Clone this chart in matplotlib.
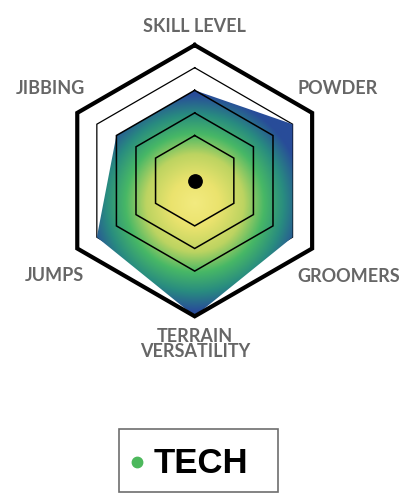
import numpy as np
import matplotlib
matplotlib.use("Agg")
import matplotlib.pyplot as plt
from matplotlib.colors import LinearSegmentedColormap
from matplotlib.patches import Polygon, Rectangle

# ski ratings, 1-5, clockwise from the top
categories = ["SKILL LEVEL", "POWDER", "GROOMERS", "TERRAIN\nVERSATILITY", "JUMPS", "JIBBING"]
scores = [3, 4, 4, 5, 4, 3]
levels = [1, 2, 3, 4, 5]
style_name = "TECH"

OFFSET = 1          # radius where a score of 0 would sit
W, H = 400, 494     # figure size in px
CX, CY = 194.7, 180.7
U = 22.6            # px per rating step

angles = np.deg2rad(90 - 60 * np.arange(len(categories)))


def px(x, y):
    # figure pixel position -> data coords
    return (x - CX) / U, (CY - y) / U


def hexagon(values):
    r = np.asarray(values, dtype=float) + OFFSET
    return np.cos(angles) * r, np.sin(angles) * r


def closed(xs, ys):
    return np.append(xs, xs[0]), np.append(ys, ys[0])


fig = plt.figure(figsize=(W / 100, H / 100), dpi=100)
ax = fig.add_axes([0, 0, 1, 1])
ax.set_xlim(-CX / U, (W - CX) / U)
ax.set_ylim(-(H - CY) / U, CY / U)
ax.axis("off")

# grid rings: inner ones over the fill, level 4 under it, outer one thick
for lvl in levels:
    xs, ys = closed(*hexagon([lvl] * len(categories)))
    if lvl == levels[-1]:
        ax.plot(xs, ys, color="black", lw=3.0, solid_joinstyle="miter", zorder=4)
    elif lvl == levels[-2]:
        ax.plot(xs, ys, color="black", lw=0.9, solid_joinstyle="miter", zorder=1)
    else:
        ax.plot(xs, ys, color="black", lw=1.1, solid_joinstyle="miter", zorder=3)

# score polygon with a radial gradient
sx, sy = hexagon(scores)
shape = Polygon(np.column_stack([sx, sy]), closed=True, transform=ax.transData)

grad = LinearSegmentedColormap.from_list("ski", [
    (0.00, (0.95, 0.92, 0.50)),
    (0.22, (0.92, 0.89, 0.43)),
    (0.45, (0.74, 0.83, 0.38)),
    (0.64, (0.28, 0.72, 0.40)),
    (0.82, (0.16, 0.55, 0.50)),
    (1.00, (0.16, 0.30, 0.60)),
])
gx0, gx1, gy0, gy1 = sx.min(), sx.max(), sy.min(), sy.max()
gcx, gcy = (gx0 + gx1) / 2, (gy0 + gy1) / 2
gx, gy = np.meshgrid(np.linspace(gx0, gx1, 400), np.linspace(gy0, gy1, 400))
dist = np.clip(np.hypot(gx - gcx, gy - gcy) / 4.8, 0, 1)
im = ax.imshow(dist, cmap=grad, vmin=0, vmax=1, origin="lower",
               extent=(gx0, gx1, gy0, gy1), interpolation="bilinear", zorder=2)
im.set_clip_path(shape)

ax.plot(0, 0, "o", color="black", markersize=9.6, zorder=5)

# axis labels, one text per line
label_pos = [(194, 32), (337.5, 94), (348.5, 282), (195, 341.7), (54, 280.7), (50, 94)]
for name, (lx, ly) in zip(categories, label_pos):
    for k, line in enumerate(name.split("\n")):
        ax.text(*px(lx, ly + 15.5 * k), line, ha="center", va="baseline",
                fontsize=13, fontweight="bold", family="Lato", color="#666666")

# style badge
ax.add_patch(Rectangle(px(119, 492), 159 / U, 63 / U, fill=False,
                       edgecolor="#6e6e6e", lw=1.2))
ax.plot(*px(137, 462), "o", color="#4cb85c", markersize=7.5)
ax.text(*px(154, 473.3), style_name, ha="left", va="baseline", fontsize=25,
        fontweight="bold", family="Liberation Sans", color="black")

fig.savefig("out.png", dpi=100)
